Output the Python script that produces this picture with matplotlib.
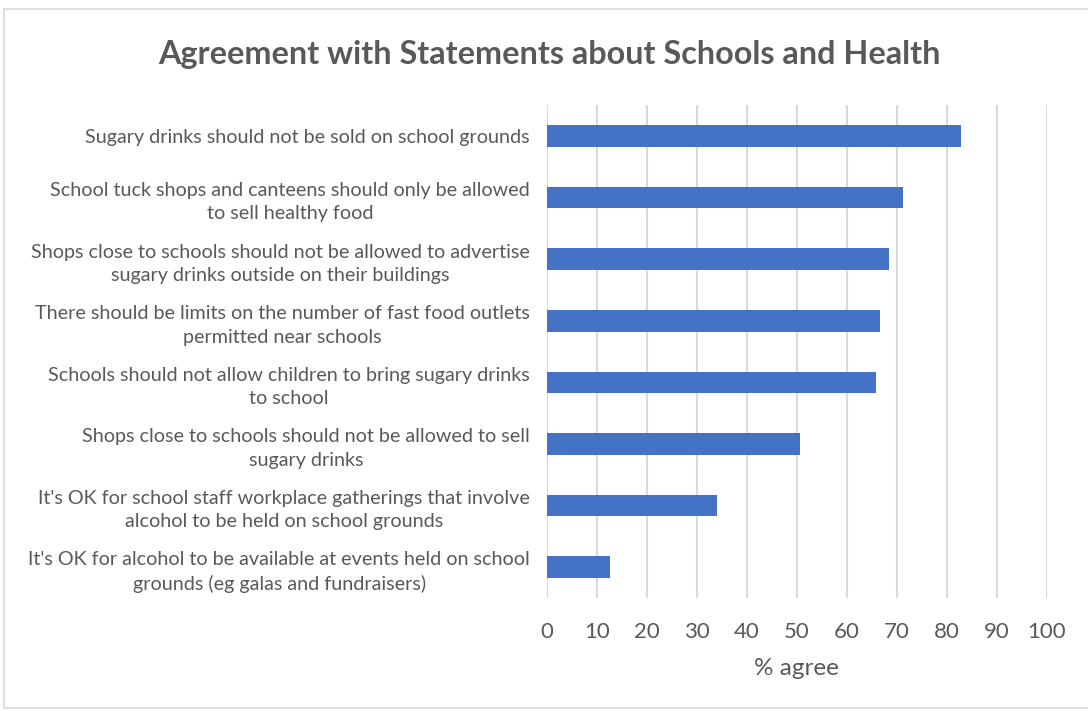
import matplotlib.pyplot as plt
from matplotlib.patches import Rectangle

statements = [
    "Sugary drinks should not be sold on school grounds",
    "School tuck shops and canteens should only be allowed\nto sell healthy food",
    "Shops close to schools should not be allowed to advertise\nsugary drinks outside on their buildings",
    "There should be limits on the number of fast food outlets\npermitted near schools",
    "Schools should not allow children to bring sugary drinks\nto school",
    "Shops close to schools should not be allowed to sell\nsugary drinks",
    "It's OK for school staff workplace gatherings that involve\nalcohol to be held on school grounds",
    "It's OK for alcohol to be available at events held on school\ngrounds (eg galas and fundraisers)",
]
pct_agree = [82.9, 71.2, 68.4, 66.6, 65.8, 50.7, 34.1, 12.7]
x_ticks = list(range(0, 101, 10))

plt.rcParams['font.family'] = ['Lato', 'DejaVu Sans']
grey = '#595959'

fig = plt.figure(figsize=(10.88, 7.11), dpi=100)
ax = fig.add_axes([0.5025, 0.159, 0.4595, 0.693])

pos = list(range(len(statements)))
ax.barh(pos, pct_agree, height=0.35, color='#4472c4', zorder=3)
ax.set_ylim(len(statements) - 0.5, -0.5)
ax.set_xlim(0, 100)
ax.set_xticks(x_ticks)
ax.set_yticks(pos)
ax.set_yticklabels(statements, fontsize=14.2, color=grey, multialignment='center',
                   linespacing=1.45)
ax.tick_params(axis='y', length=0, pad=12)
ax.tick_params(axis='x', length=0, pad=17, labelsize=16, labelcolor=grey)
ax.grid(axis='x', color='#d9d9d9', linewidth=1.5, zorder=0)
for s in ax.spines.values():
    s.set_visible(False)

ax.set_xlabel('% agree', fontsize=17.5, color=grey, labelpad=12)
fig.text(0.505, 0.924, 'Agreement with Statements about Schools and Health',
         ha='center', va='center', fontsize=23.3, fontweight='bold', color=grey)

# chart border
fig.patches.append(Rectangle((4 / 1088, 3 / 711), 1.1, 699 / 711, transform=fig.transFigure,
                             fill=False, edgecolor='#d9d9d9', linewidth=1.2))

fig.savefig('out.png', dpi=100)
